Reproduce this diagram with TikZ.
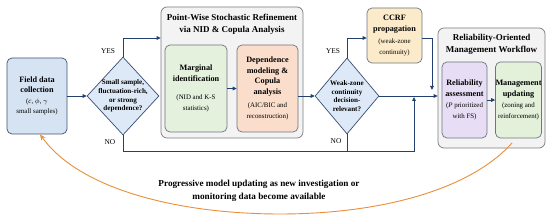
\documentclass[tikz,border=0pt]{standalone}
\usepackage{fontspec}
\setmainfont{Liberation Serif}
\usetikzlibrary{shapes.geometric,arrows.meta}
\definecolor{navy}{HTML}{24406E}
\definecolor{bgray}{HTML}{6F7480}
\definecolor{cgray}{HTML}{7C7C82}
\definecolor{fieldfill}{HTML}{D5E3F3}
\definecolor{diafill}{HTML}{DDE9F6}
\definecolor{contfill}{HTML}{F3F3F3}
\definecolor{margfill}{HTML}{E4F1DD}
\definecolor{depfill}{HTML}{FADDCB}
\definecolor{ccrffill}{HTML}{FBEBCB}
\definecolor{relfill}{HTML}{E7DEF5}
\definecolor{mgmtfill}{HTML}{E3F0DA}
\definecolor{orangec}{HTML}{E8903A}
\newcommand{\hb}[1]{{\fontsize{8.2}{10.5}\selectfont\bfseries #1}}
\newcommand{\db}[1]{{\fontsize{7.1}{8.6}\selectfont\bfseries #1}}
\begin{document}
\begin{tikzpicture}[x=1pt,y=-1pt,
  box/.style={draw=bgray, line width=0.7pt, rounded corners=5pt, align=center, inner sep=0pt,
    font=\fontsize{6.9}{10.5}\selectfont},
  cont/.style={draw=cgray, line width=0.7pt, rounded corners=6pt, fill=contfill, inner sep=0pt},
  dia/.style={diamond, draw=navy!80!gray, line width=0.7pt, fill=diafill, inner sep=0pt},
  dtext/.style={align=center, inner sep=0pt, font=\fontsize{7.1}{8.8}\selectfont},
  lab/.style={inner sep=0pt, font=\fontsize{7.4}{9}\selectfont},
  conn/.style={draw=navy, line width=0.9pt},
  arr/.style={conn, -{Triangle[length=4pt,width=3.6pt]}},
  title/.style={align=center, inner sep=0pt, font=\fontsize{9}{12}\selectfont\bfseries}
]
\useasboundingbox (0,0) rectangle (550,224);
\fill[white] (0,0) rectangle (550,224);

% containers
\node[cont, minimum width=142pt, minimum height=131pt] (pw) at (232,72.5) {};
\node[title, anchor=north] (pwt) at ([yshift=-7pt]pw.north) {Point-Wise Stochastic Refinement\\via NID \& Copula Analysis};
\node[cont, minimum width=107pt, minimum height=120pt] (wf) at (491.5,88) {};
\node[title, anchor=north] (wft) at ([yshift=-6pt]wf.north) {Reliability-Oriented\\Management Workflow};

% boxes
\node[box, fill=fieldfill, draw=navy!70!gray, minimum width=60pt, minimum height=76pt] (field) at (37,96)
  {\hb{Field data}\\\hb{collection}\\(\textit{c}, $\phi$, $\gamma$\\small samples)};
\node[box, fill=margfill, minimum width=62pt, minimum height=87pt] (marg) at (196,88.5)
  {\hb{Marginal}\\\hb{identification}\\[8pt](NID and K-S\\statistics)};
\node[box, fill=depfill, minimum width=61pt, minimum height=87pt] (dep) at (267.5,88.5)
  {\hb{Dependence}\\\hb{modeling \&}\\\hb{Copula}\\\hb{analysis}\\[3pt](AIC/BIC and\\reconstruction)};
\node[box, fill=ccrffill, minimum width=55pt, minimum height=55pt] (ccrf) at (394.5,35.5)
  {\hb{CCRF}\\\hb{propagation}\\[2pt](weak-zone\\continuity)};
\node[box, fill=relfill, minimum width=45pt, minimum height=76pt] (rel) at (464.5,100)
  {\hb{Reliability}\\\hb{assessment}\\[1pt](\textit{P} prioritized\\with FS)};
\node[box, fill=mgmtfill, minimum width=45pt, minimum height=76pt] (mgmt) at (518.5,100)
  {\hb{Management}\\\hb{updating}\\[1pt](zoning and\\reinforcement)};

% diamonds
\node[dia, minimum width=72pt, minimum height=78pt] (d1) at (123,96) {};
\node[dtext] (d1t) at (d1.center) {\db{Small sample,}\\\db{fluctuation-rich,}\\\db{or strong}\\\db{dependence?}};
\node[dia, minimum width=64pt, minimum height=76pt] (d2) at (347,96) {};
\node[dtext] (d2t) at (d2.center) {\db{Weak-zone}\\\db{continuity}\\\db{decision-}\\\db{relevant?}};

% labels
\node[lab] (yes1) at (108,51) {YES};
\node[lab] (no1) at (110,142) {NO};
\node[lab] (yes2) at (333,51) {YES};
\node[lab] (no2) at (336,141) {NO};

% level coordinates
\coordinate (ytop) at (0,38);
\coordinate (ybot) at (0,151);
\coordinate (ccrfdrop) at (432,90);
\coordinate (nojoin) at (414,97);

% connectors
\draw[arr] (field.east) -- (d1.west);
\draw[arr] (d1.north) |- (pw.west |- ytop);
\draw[arr] (marg.east) -- (dep.west);
\draw[arr] (dep.east |- d2.west) -- (d2.west);
\draw[arr] (d2.north) |- (ccrf.west |- ytop);
\draw[arr] (ccrf.east |- ytop) -| (ccrfdrop);
\draw[arr] (d2.east) -- (d2.east -| wf.west);
\draw[arr] (d1.south) |- (nojoin |- ybot) -- (nojoin);
\draw[conn] (d2.south) -- (d2.south |- ybot);
\draw[arr] (rel.east) -- (mgmt.west);

% feedback loop
\coordinate (fbstart) at (512,143);
\draw[draw=orangec, line width=0.9pt, -{Stealth[length=6pt,width=5pt]}]
  (fbstart) .. controls (470,190) and (380,214) .. (280,214)
  .. controls (180,214) and (80,190) .. (field.south -| 40,0);
\node[align=center, inner sep=0pt, font=\fontsize{9.2}{13}\selectfont\bfseries] (fbt) at (259,191)
  {Progressive model updating as new investigation or\\monitoring data become available};
\end{tikzpicture}
\end{document}
